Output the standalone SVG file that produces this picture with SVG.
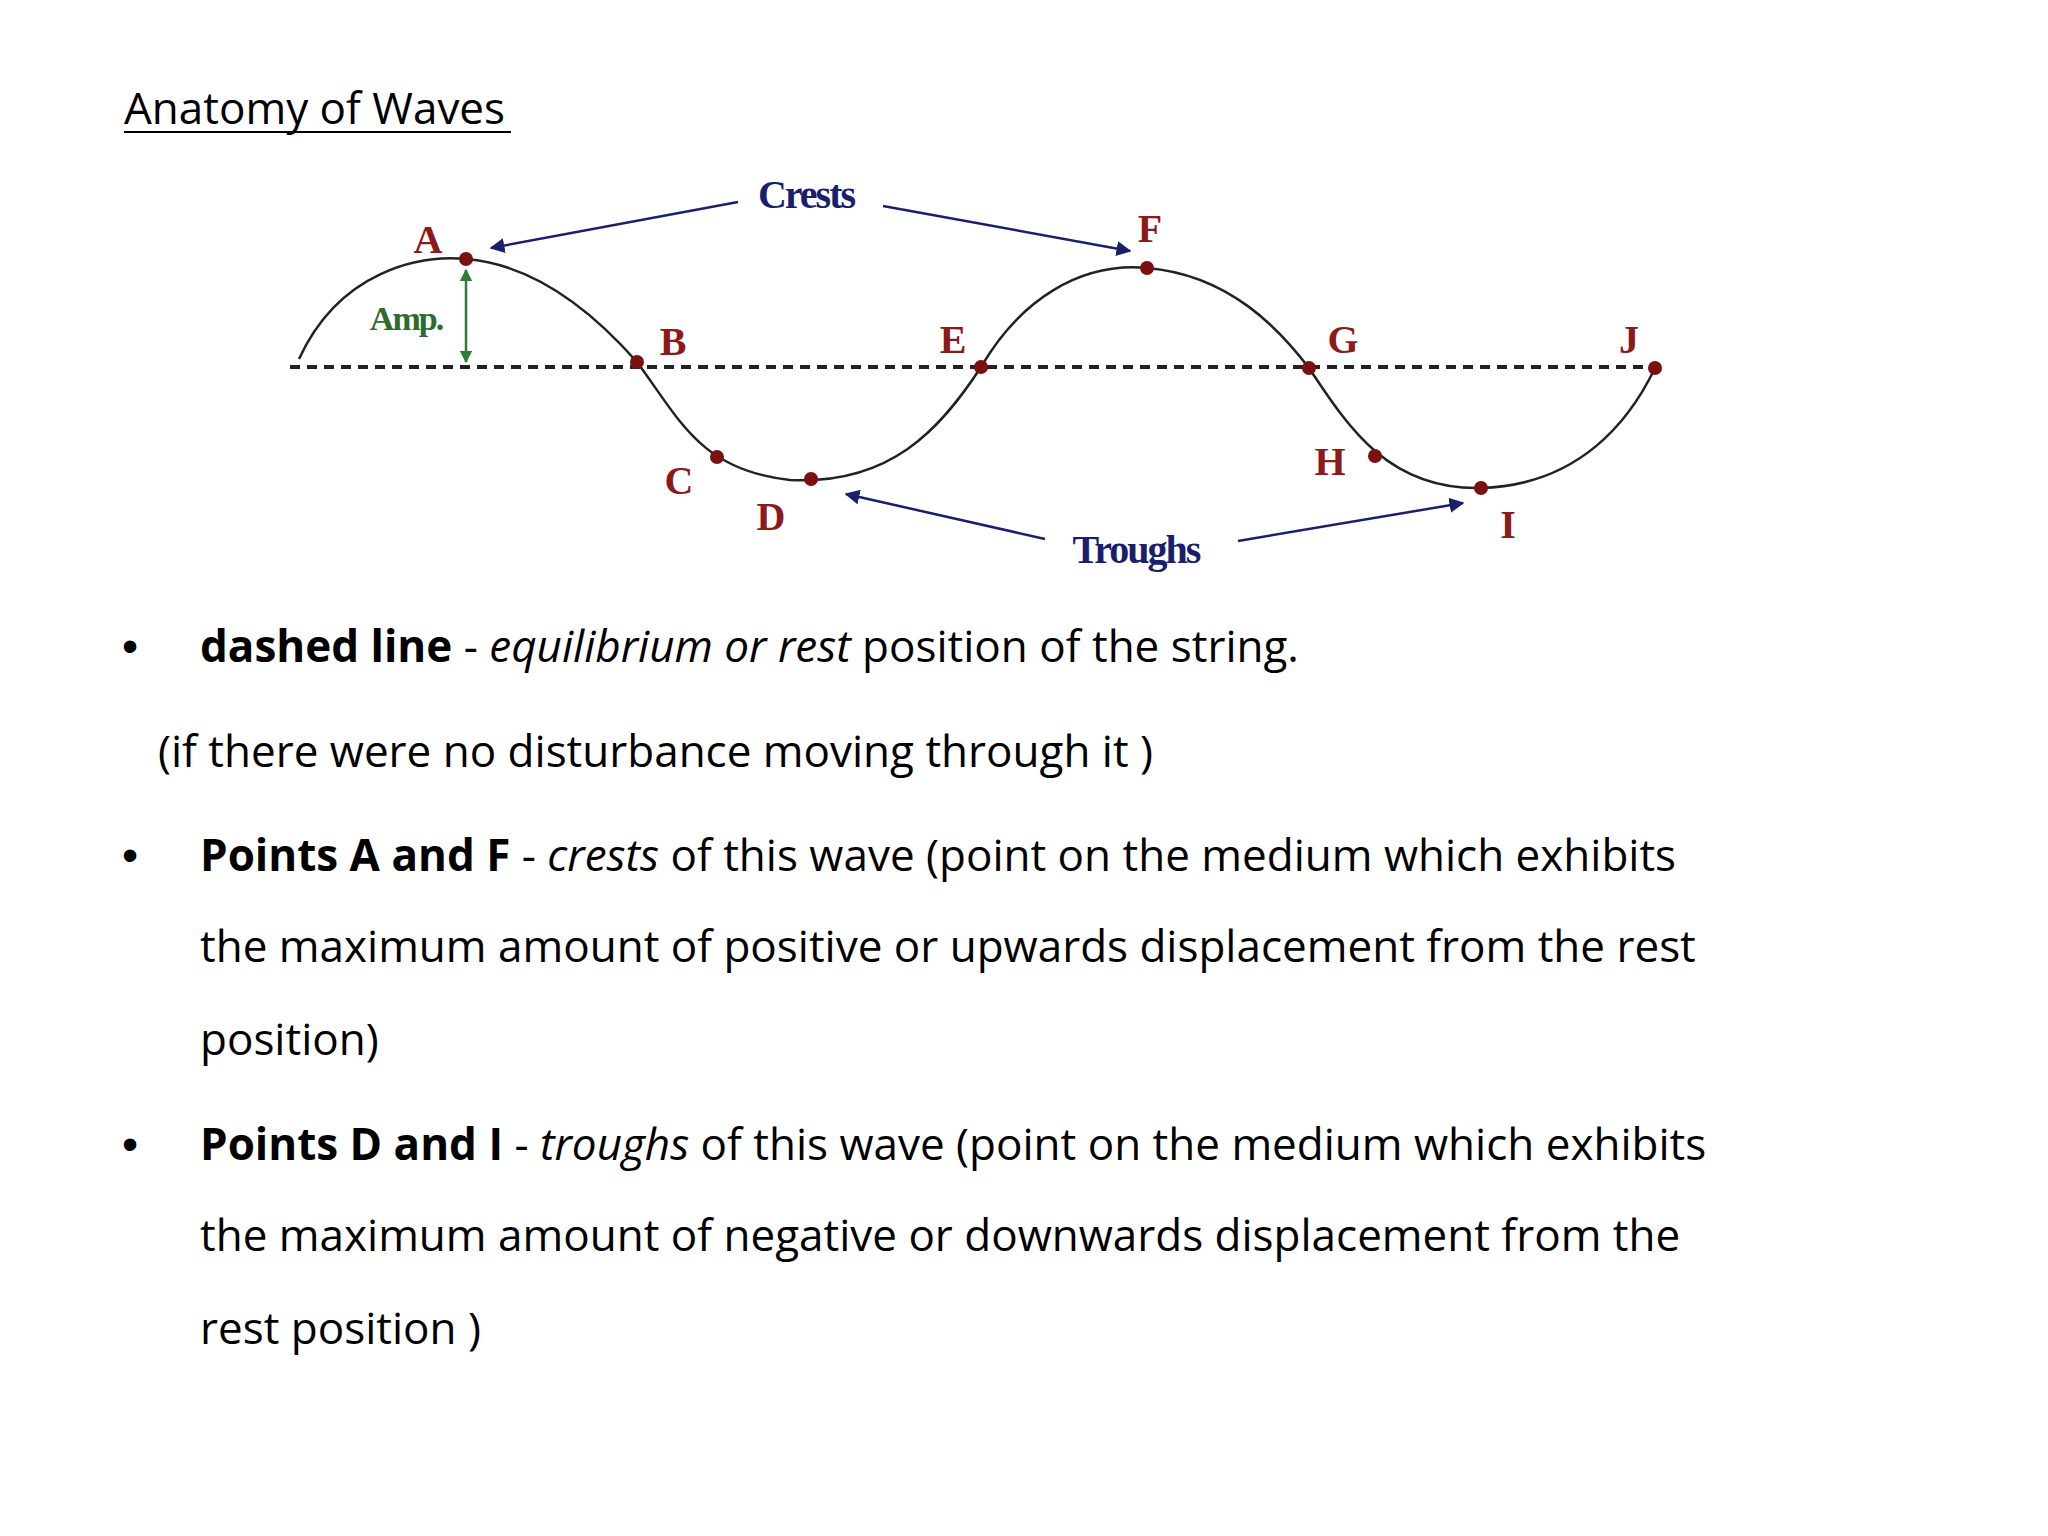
<svg xmlns="http://www.w3.org/2000/svg" width="2048" height="1536" viewBox="0 0 2048 1536">
<defs>
<style>
.t{font-family:"Open Sans","Liberation Sans",sans-serif;font-size:44px;fill:#000}
.b{font-family:"Liberation Sans",sans-serif;font-size:46px;fill:#000}
.lbl{font-family:"Liberation Serif","Times New Roman",serif;font-weight:bold;font-size:40px;fill:#8b1a1a}
.nv{font-family:"Liberation Serif","Times New Roman",serif;font-weight:bold;font-size:40px;fill:#1a1f6b;letter-spacing:-2px}
.pt{fill:#7a1010}
.ar{stroke:#1a1f6b;stroke-width:2.5;fill:none;marker-end:url(#nav)}
</style>
<marker id="nav" viewBox="0 0 10 10" refX="9" refY="5" markerWidth="6" markerHeight="6" orient="auto"><path d="M0,0L10,5L0,10z" fill="#1a1f6b"/></marker>
<marker id="gr" viewBox="0 0 10 10" refX="9" refY="5" markerWidth="5" markerHeight="5" orient="auto-start-reverse"><path d="M0,0L10,5L0,10z" fill="#2e7d32"/></marker>
</defs>
<rect width="2048" height="1536" fill="#fff"/>
<text class="t" x="124" y="124" font-size="45">Anatomy of Waves</text>
<line x1="124" y1="132" x2="511" y2="132" stroke="#000" stroke-width="2"/>
<g id="wave">
<line x1="290" y1="367" x2="1652" y2="367" stroke="#222" stroke-width="4" stroke-dasharray="10,7"/>
<path d="M299,359 C340,270 420,255 466,259 C540,265 600,320 637,362 C680,420 700,470 790,480 C890,485 940,430 981,367 C1020,300 1080,262 1147,268 C1230,275 1280,330 1309,368 C1350,430 1390,490 1481,488 C1580,485 1630,420 1655,368" fill="none" stroke="#222" stroke-width="2.5"/>
</g>
<g id="points">
<circle class="pt" cx="466" cy="259" r="7"/><circle class="pt" cx="637" cy="362" r="7"/>
<circle class="pt" cx="717" cy="457" r="7"/><circle class="pt" cx="811" cy="479" r="7"/>
<circle class="pt" cx="981" cy="367" r="7"/><circle class="pt" cx="1147" cy="268" r="7"/>
<circle class="pt" cx="1309" cy="368" r="7"/><circle class="pt" cx="1375" cy="456" r="7"/>
<circle class="pt" cx="1481" cy="488" r="7"/><circle class="pt" cx="1655" cy="368" r="7"/>
</g>
<g id="labels">
<text class="lbl" x="428" y="253" text-anchor="middle">A</text>
<text class="lbl" x="673" y="355" text-anchor="middle">B</text>
<text class="lbl" x="679" y="494" text-anchor="middle">C</text>
<text class="lbl" x="771" y="530" text-anchor="middle">D</text>
<text class="lbl" x="953" y="353" text-anchor="middle">E</text>
<text class="lbl" x="1150" y="242" text-anchor="middle">F</text>
<text class="lbl" x="1343" y="353" text-anchor="middle">G</text>
<text class="lbl" x="1330" y="475" text-anchor="middle">H</text>
<text class="lbl" x="1508" y="538" text-anchor="middle">I</text>
<text class="lbl" x="1629" y="353" text-anchor="middle">J</text>
<text class="nv" x="806" y="208" text-anchor="middle">Crests</text>
<text class="nv" x="1136" y="563" text-anchor="middle">Troughs</text>
<text x="406" y="330" text-anchor="middle" font-family="Liberation Serif,serif" font-weight="bold" font-size="34" fill="#2e6b2e" letter-spacing="-2">Amp.</text>
</g>
<g id="connectors">
<path class="ar" d="M738,202L491,248"/>
<path class="ar" d="M883,206L1130,251"/>
<path class="ar" d="M1045,539L846,494"/>
<path class="ar" d="M1238,541L1463,503"/>
<line x1="466" y1="270" x2="466" y2="362" stroke="#2e7d32" stroke-width="2.5" marker-start="url(#gr)" marker-end="url(#gr)"/>
</g>
<g id="text">
<text class="b" x="122" y="662">•</text>
<text class="t" x="200" y="662"><tspan font-weight="bold">dashed line</tspan> - <tspan font-style="italic">equilibrium or rest</tspan> position of the string.</text>
<text class="t" x="158" y="767">(if there were no disturbance moving through it )</text>
<text class="b" x="122" y="871">•</text>
<text class="t" x="200" y="871"><tspan font-weight="bold">Points A and F</tspan> - <tspan font-style="italic">crests</tspan> of this wave (point on the medium which exhibits</text>
<text class="t" x="200" y="962">the maximum amount of positive or upwards displacement from the rest</text>
<text class="t" x="200" y="1055">position)</text>
<text class="b" x="122" y="1160">•</text>
<text class="t" x="200" y="1160"><tspan font-weight="bold">Points D and I</tspan> - <tspan font-style="italic">troughs</tspan> of this wave (point on the medium which exhibits</text>
<text class="t" x="200" y="1251">the maximum amount of negative or downwards displacement from the</text>
<text class="t" x="200" y="1344">rest position )</text>
</g>
</svg>
